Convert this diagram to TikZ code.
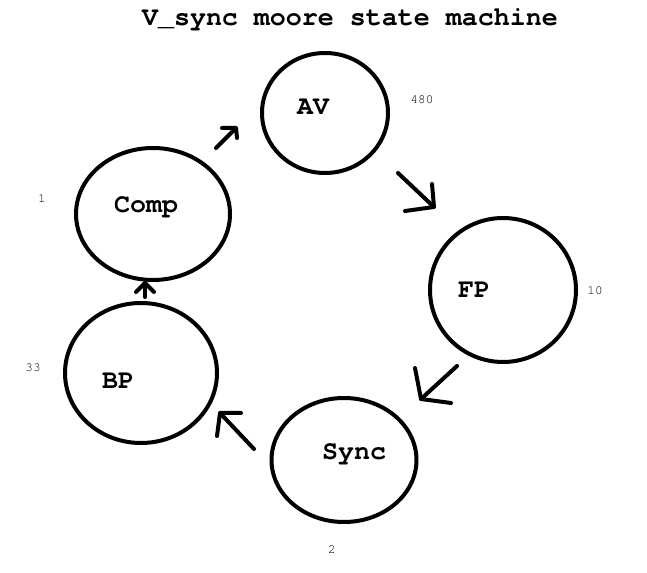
\documentclass[tikz,border=0pt]{standalone}
\usepackage{fontspec}
\setmainfont{TeX Gyre Cursor}
\usetikzlibrary{shapes.geometric}
\begin{document}
\begin{tikzpicture}[x=0.75pt,y=-0.75pt,
  st/.style={draw,line width=3pt,ellipse,inner sep=0pt},
  lbl/.style={font=\fontsize{20}{23}\selectfont\bfseries,inner sep=0pt},
  num/.style={font=\fontsize{9.5}{11}\selectfont,inner sep=0pt},
  arr/.style={line width=3pt,line cap=round,line join=round}]
\useasboundingbox (0,0) rectangle (647,573);
\node[font=\fontsize{20}{23}\selectfont\bfseries,inner sep=0pt] (title) at (350,20) {V\_sync moore state machine};
% states
\node[st,minimum width=94.5pt,minimum height=90pt] (av) at (325,113) {};
\node[st,minimum width=115.5pt,minimum height=99pt] (comp) at (153,214) {};
\node[st,minimum width=109.5pt,minimum height=108pt] (fp) at (503,290) {};
\node[st,minimum width=114pt,minimum height=105pt] (bp) at (141,373) {};
\node[st,minimum width=108.75pt,minimum height=93pt] (sync) at (344,460) {};
% labels
\node[lbl] (avl) at (313,107) {AV};
\node[lbl] (compl) at (146,207) {Comp};
\node[lbl] (fpl) at (474,290) {FP};
\node[lbl] (bpl) at (118,381) {BP};
\node[lbl] (syncl) at (354,454) {Sync};
% numbers
\node[num] (n480) at (422,100) {480};
\node[num] (n1) at (42,199) {1};
\node[num] (n10) at (595,291) {10};
\node[num] (n33) at (33,368) {33};
\node[num] (n2) at (332,550) {2};
% arrows: Comp -> AV
\coordinate (a1s) at (216,148); \coordinate (a1t) at (236,128);
\coordinate (a1a) at (222,128); \coordinate (a1b) at (237,138);
\draw[arr] (a1s) -- (a1t); \draw[arr] (a1a) -- (a1t) -- (a1b);
% AV -> FP
\coordinate (a2s) at (398,173); \coordinate (a2t) at (434,207);
\coordinate (a2a) at (432,184); \coordinate (a2b) at (405,211);
\draw[arr] (a2s) -- (a2t); \draw[arr] (a2a) -- (a2t) -- (a2b);
% FP -> Sync
\coordinate (a3s) at (457,366); \coordinate (a3t) at (421,399);
\coordinate (a3a) at (415,368); \coordinate (a3b) at (451,403);
\draw[arr] (a3s) -- (a3t); \draw[arr] (a3a) -- (a3t) -- (a3b);
% Sync -> BP
\coordinate (a4s) at (254,449); \coordinate (a4t) at (220,413);
\coordinate (a4a) at (241,413); \coordinate (a4b) at (217,436);
\draw[arr] (a4s) -- (a4t); \draw[arr] (a4a) -- (a4t) -- (a4b);
% BP -> Comp
\coordinate (a5s) at (145,297); \coordinate (a5t) at (145,283);
\coordinate (a5a) at (136,292); \coordinate (a5b) at (154,292);
\draw[arr] (a5s) -- (a5t); \draw[arr] (a5a) -- (a5t) -- (a5b);
\end{tikzpicture}
\end{document}
